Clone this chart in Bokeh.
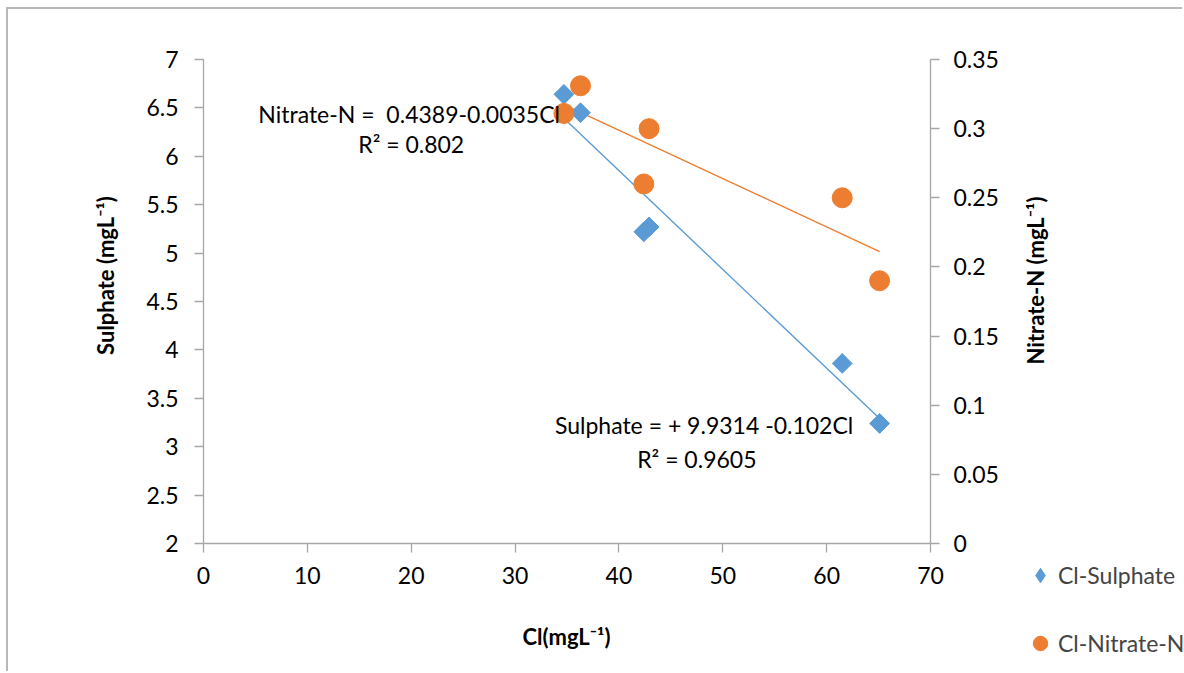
import numpy as np
from bokeh.plotting import figure
from bokeh.models import Range1d, LinearAxis, FixedTicker, Label, Legend, LegendItem
from bokeh.embed import file_html
from bokeh.resources import INLINE

# ---------------- data ----------------
cl = [34.7, 36.3, 42.4, 42.9, 61.5, 65.1]
sulphate = [6.64, 6.45, 5.22, 5.27, 3.86, 3.24]
nitrate = [0.311, 0.331, 0.260, 0.300, 0.250, 0.190]

sulphate_fit = [9.9314, -0.102]    # intercept, slope
nitrate_fit = [0.4389, -0.0035]

series_names = ["Cl-Sulphate", "Cl-Nitrate-N"]

x_ticks = [0, 10, 20, 30, 40, 50, 60, 70]
left_ticks = [2, 2.5, 3, 3.5, 4, 4.5, 5, 5.5, 6, 6.5, 7]
left_labels = ["2", "2.5", "3", "3.5", "4", "4.5", "5", "5.5", "6", "6.5", "7"]
right_ticks = [0, 0.05, 0.1, 0.15, 0.2, 0.25, 0.3, 0.35]
right_labels = ["0", "0.05", "0.1", "0.15", "0.2", "0.25", "0.3", "0.35"]

FONT = "Lato"
BLUE = "#5B9BD5"
ORANGE = "#ED7D31"
AXIS = "#a6a6a6"

# page geometry (pixels) of the plotting area in the reference
W, H = 1184, 673
ox, oy = 8, 9                    # canvas origin inside the page (after border)
PL, PR, PT, PB = 203, 930, 59, 543
X0, X1 = 0, 70
Y0, Y1 = 2, 7
N0, N1 = 0, 0.35

def extend(lo, hi, plo, phi, a, b):
    # range whose [lo, hi] maps to pixels [plo, phi] on a canvas [a, b]
    k = (hi - lo) / (phi - plo)
    return lo - (plo - a) * k, hi + (b - phi) * k

xr = extend(X0, X1, PL, PR, ox, W)
yb, yt = extend(Y0, Y1, H - PB, H - PT, 0, H - oy)
nb, nt = extend(N0, N1, H - PB, H - PT, 0, H - oy)

p = figure(width=W - ox, height=H - oy,
           x_range=Range1d(*xr), y_range=Range1d(yb, yt),
           output_backend="svg", toolbar_location=None,
           min_border_left=0, min_border_right=0,
           min_border_top=0, min_border_bottom=0)
p.margin = (oy - 2, 0, 0, ox - 2)
p.styles = {"border-left": "2px solid #b8b8b8", "border-top": "2px solid #b8b8b8"}
p.extra_y_ranges = {"n": Range1d(nb, nt)}
p.grid.visible = False
p.outline_line_color = None
p.background_fill_color = "white"

right = LinearAxis(y_range_name="n")
p.add_layout(right, "right")

p.xaxis[0].fixed_location = Y0
p.xaxis[0].bounds = (X0, X1)
p.yaxis[0].fixed_location = X0
p.yaxis[0].bounds = (Y0, Y1)
right.fixed_location = X1
right.bounds = (N0, N1)

for ax in [p.xaxis[0], p.yaxis[0], right]:
    ax.axis_line_color = AXIS
    ax.axis_line_width = 1.3
    ax.major_tick_line_color = AXIS
    ax.major_tick_line_width = 1.3
    ax.major_tick_in = 0
    ax.major_tick_out = 9
    ax.minor_tick_line_color = None
    ax.major_label_text_font = FONT
    ax.major_label_text_font_size = "23px"
    ax.major_label_text_color = "black"

p.xaxis[0].ticker = FixedTicker(ticks=x_ticks)
p.xaxis[0].major_label_standoff = 14
p.yaxis[0].ticker = FixedTicker(ticks=left_ticks)
p.yaxis[0].major_label_overrides = {t: l for t, l in zip(left_ticks, left_labels)}
p.yaxis[0].major_label_standoff = 16
right.ticker = FixedTicker(ticks=right_ticks)
right.major_label_overrides = {t: l for t, l in zip(right_ticks, right_labels)}
right.major_label_standoff = 14

# trend lines
xs = np.array([min(cl), max(cl)])
p.line(xs, sulphate_fit[0] + sulphate_fit[1] * xs, line_color=BLUE, line_width=1.4)
p.line(xs, nitrate_fit[0] + nitrate_fit[1] * xs, line_color=ORANGE, line_width=1.4,
       y_range_name="n")

r_s = p.scatter(cl, sulphate, marker="square", size=14, angle=np.pi / 4,
                fill_color=BLUE, line_color=BLUE)
r_n = p.scatter(cl, nitrate, marker="circle", size=20, fill_color=ORANGE,
                line_color=ORANGE, y_range_name="n")

# legend-only glyphs (no visible points)
leg_s = p.scatter([np.nan], [np.nan], marker="diamond", size=14,
                  fill_color=BLUE, line_color=BLUE)
leg_n = p.scatter([np.nan], [np.nan], marker="circle", size=14,
                  fill_color=ORANGE, line_color=ORANGE, y_range_name="n")

# equation labels
def lab(text, x, y):
    p.add_layout(Label(text=text, x=x, y=y, text_font=FONT, text_font_size="23px",
                       text_align="center", text_baseline="middle",
                       text_color="black"))

lab("Nitrate-N =\u00a0 %.4f%.4fCl" % (nitrate_fit[0], nitrate_fit[1]), 19.8, 6.44)
lab("R² = 0.802", 20.0, 6.13)
lab("Sulphate = + %.4f %.3fCl" % (sulphate_fit[0], sulphate_fit[1]), 48.2, 3.22)
lab("R² = 0.9605", 47.5, 2.87)

# axis titles (screen units, measured from the canvas bottom-left)
def title(text, x, y, angle=0.0):
    p.add_layout(Label(text=text, x=x - ox, y=H - y, x_units="screen", y_units="screen",
                       text_font=FONT, text_font_size="22px", text_font_style="bold",
                       text_align="center", text_baseline="middle",
                       angle=angle, text_color="black"))

title("Sulphate (mgL⁻¹)", 105, 275, np.pi / 2)
title("Nitrate-N (mgL⁻¹)", 1035, 280, np.pi / 2)
title("Cl(mgL⁻¹)", 566, 636)

legend = Legend(items=[LegendItem(label=series_names[0], renderers=[leg_s]),
                       LegendItem(label=series_names[1], renderers=[leg_n])],
                location=(1040 - 18 - ox, H - 661), orientation="vertical",
                border_line_color=None, background_fill_alpha=0,
                padding=0, margin=0, spacing=32,
                glyph_width=36, glyph_height=36, label_height=36,
                label_standoff=0,
                label_text_font=FONT, label_text_font_size="23px")
p.add_layout(legend)

open("out.html", "w").write(file_html(p, INLINE))
